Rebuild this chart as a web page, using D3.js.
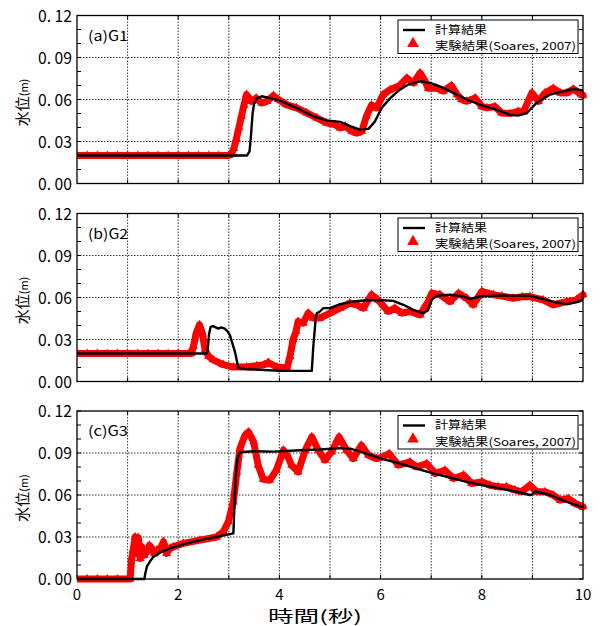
<!DOCTYPE html>
<html><head><meta charset="utf-8">
<script src="https://cdn.jsdelivr.net/npm/d3@7"></script>
<style>
html,body{margin:0;padding:0;background:#fff;}
svg{display:block;font-family:"Noto Sans CJK JP","Noto Sans",sans-serif;}
</style></head>
<body><svg id="chart" width="601" height="626"></svg>
<script>
// ---- data (time [s], water level [m]) ----
const panelLabels = ["(a)G1", "(b)G2", "(c)G3"];
const legendLabels = ["計算結果", "実験結果(Soares, 2007)"];
const yTickValues = [0, 0.03, 0.06, 0.09, 0.12];
const yTickLabels = ["0. 00", "0. 03", "0. 06", "0. 09", "0. 12"];
const xTickValues = [0, 2, 4, 6, 8, 10];
const xTickLabels = ["0", "2", "4", "6", "8", "10"];
const yTitle = ["水位", "(m)"];
const xTitle = "時間(秒)";

const g1Calc = [[0,0.02],[3.36,0.02],[3.41,0.023],[3.44,0.035],[3.47,0.05],[3.5,0.057],[3.56,0.061],[3.65,0.0623],[3.81,0.061],[4.0,0.0594],[4.34,0.054],[4.67,0.048],[4.93,0.0451],[5.2,0.044],[5.4,0.041],[5.59,0.0385],[5.76,0.039],[5.89,0.0444],[6.02,0.054],[6.19,0.061],[6.38,0.067],[6.54,0.0706],[6.78,0.073],[6.98,0.0718],[7.17,0.0694],[7.44,0.0647],[7.70,0.060],[8.0,0.0558],[8.29,0.0528],[8.56,0.049],[8.72,0.0485],[8.89,0.0504],[9.08,0.0575],[9.35,0.0635],[9.61,0.0658],[9.81,0.0675],[10,0.0665]];
const g1Exp = [[0,0.02],[0.2,0.02],[0.4,0.02],[0.6,0.02],[0.8,0.02],[1.0,0.02],[1.2,0.02],[1.4,0.02],[1.6,0.02],[1.8,0.02],[2.0,0.02],[2.2,0.02],[2.4,0.02],[2.6,0.02],[2.8,0.02],[3.0,0.02],[3.05,0.021],[3.1,0.025],[3.15,0.032],[3.2,0.040],[3.25,0.048],[3.3,0.056],[3.35,0.0635],[3.45,0.0587],[3.54,0.061],[3.65,0.0575],[3.75,0.0587],[3.88,0.0627],[3.98,0.060],[4.14,0.0563],[4.34,0.054],[4.54,0.0504],[4.74,0.0468],[4.93,0.0433],[5.10,0.042],[5.2,0.0397],[5.3,0.0409],[5.43,0.0373],[5.53,0.036],[5.63,0.0373],[5.72,0.048],[5.82,0.056],[5.92,0.054],[6.05,0.0635],[6.19,0.067],[6.38,0.070],[6.52,0.0753],[6.65,0.0718],[6.78,0.079],[6.88,0.073],[6.94,0.068],[7.11,0.068],[7.24,0.066],[7.40,0.070],[7.51,0.0635],[7.60,0.060],[7.70,0.0587],[7.87,0.061],[8.0,0.055],[8.1,0.054],[8.26,0.055],[8.39,0.0504],[8.56,0.050],[8.72,0.0516],[8.82,0.051],[8.99,0.0647],[9.12,0.0587],[9.25,0.0647],[9.41,0.068],[9.55,0.0647],[9.68,0.0647],[9.81,0.0675],[9.97,0.0635],[10,0.063]];

const g2Calc = [[0,0.02],[2.56,0.02],[2.58,0.022],[2.61,0.034],[2.64,0.039],[2.69,0.0395],[2.79,0.0378],[2.85,0.0386],[2.92,0.0378],[2.97,0.036],[3.02,0.0333],[3.12,0.0214],[3.19,0.0096],[3.35,0.0088],[4.02,0.0076],[4.64,0.0076],[4.67,0.025],[4.72,0.046],[4.74,0.0488],[4.8,0.050],[4.87,0.0524],[5.0,0.0524],[5.2,0.0553],[5.46,0.0571],[5.72,0.058],[6.05,0.058],[6.25,0.0576],[6.45,0.0548],[6.65,0.0512],[6.84,0.0488],[6.94,0.051],[7.01,0.0583],[7.11,0.0612],[7.37,0.062],[7.64,0.0607],[7.77,0.059],[7.96,0.0607],[8.36,0.0614],[8.95,0.0612],[9.15,0.0595],[9.48,0.0564],[9.68,0.0553],[9.87,0.0567],[10,0.0583]];
const g2Exp = [[0,0.02],[0.2,0.02],[0.4,0.02],[0.6,0.02],[0.8,0.02],[1.0,0.02],[1.2,0.02],[1.4,0.02],[1.6,0.02],[1.8,0.02],[2.0,0.02],[2.2,0.02],[2.26,0.02],[2.3,0.025],[2.36,0.035],[2.42,0.0405],[2.48,0.034],[2.53,0.0226],[2.6,0.018],[2.69,0.0155],[2.89,0.012],[3.09,0.0103],[3.35,0.0103],[3.55,0.0112],[3.7,0.012],[3.78,0.0136],[3.95,0.0103],[4.15,0.0096],[4.21,0.0179],[4.27,0.0298],[4.33,0.036],[4.37,0.0428],[4.47,0.0417],[4.57,0.0488],[4.67,0.0453],[4.80,0.0453],[5.0,0.0488],[5.2,0.0524],[5.39,0.056],[5.53,0.0548],[5.66,0.0524],[5.82,0.062],[5.95,0.0583],[6.15,0.050],[6.28,0.0524],[6.42,0.0488],[6.58,0.050],[6.78,0.0476],[6.94,0.057],[7.01,0.063],[7.17,0.062],[7.37,0.057],[7.54,0.063],[7.70,0.0595],[7.83,0.0548],[8.0,0.0643],[8.23,0.062],[8.4,0.061],[8.62,0.0595],[8.8,0.0605],[8.95,0.0607],[9.21,0.0583],[9.41,0.0548],[9.68,0.057],[9.87,0.0583],[10,0.062]];

const g3Calc = [[0,0],[1.33,0],[1.35,0.004],[1.38,0.0088],[1.45,0.013],[1.51,0.0159],[1.65,0.019],[1.84,0.0219],[2.17,0.0254],[2.5,0.0283],[2.83,0.0306],[3.09,0.0326],[3.12,0.06],[3.15,0.080],[3.18,0.087],[3.22,0.0905],[3.49,0.0913],[3.88,0.091],[4.41,0.092],[4.8,0.0925],[5.2,0.0935],[5.4,0.0931],[5.72,0.0896],[6.05,0.0856],[6.38,0.0825],[6.71,0.0789],[7.04,0.0754],[7.37,0.0725],[7.70,0.0694],[8.03,0.067],[8.36,0.0647],[8.69,0.0623],[8.95,0.060],[9.0,0.0605],[9.05,0.0627],[9.35,0.060],[9.68,0.0551],[10,0.0511]];
const g3Exp = [[0,0],[0.2,0],[0.4,0],[0.6,0],[0.8,0],[1.0,0],[1.05,0],[1.08,0.0147],[1.11,0.0207],[1.15,0.030],[1.18,0.018],[1.21,0.0295],[1.25,0.0147],[1.28,0.023],[1.33,0.017],[1.38,0.0195],[1.43,0.024],[1.48,0.0219],[1.53,0.018],[1.58,0.0207],[1.65,0.022],[1.71,0.0266],[1.77,0.0183],[1.84,0.022],[1.90,0.023],[2.1,0.0254],[2.43,0.0278],[2.76,0.030],[2.89,0.0337],[2.99,0.0409],[3.09,0.0551],[3.16,0.0765],[3.22,0.0932],[3.32,0.1027],[3.39,0.105],[3.49,0.098],[3.58,0.0813],[3.68,0.0712],[3.81,0.0706],[3.94,0.0777],[4.08,0.092],[4.16,0.088],[4.24,0.0813],[4.37,0.0765],[4.51,0.092],[4.64,0.1015],[4.77,0.092],[4.9,0.0849],[5.03,0.0908],[5.18,0.1015],[5.33,0.092],[5.46,0.086],[5.62,0.0955],[5.76,0.0884],[5.92,0.086],[6.05,0.0872],[6.17,0.0896],[6.35,0.0813],[6.58,0.0836],[6.71,0.080],[6.91,0.0825],[7.08,0.0754],[7.27,0.0777],[7.44,0.0718],[7.64,0.0742],[7.80,0.0682],[8.0,0.0694],[8.16,0.067],[8.33,0.0658],[8.49,0.0658],[8.66,0.0635],[8.79,0.0623],[8.95,0.067],[9.08,0.0623],[9.25,0.0623],[9.41,0.060],[9.55,0.0563],[9.71,0.0575],[9.84,0.054],[10,0.0516]];

const calcSeries = [g1Calc, g2Calc, g3Calc];
const expSeries = [g1Exp, g2Exp, g3Exp];

// ---- layout ----
const svg = d3.select("#chart");
const X0 = 77, X1 = 583, PH = 168;
const panelTops = [15.5, 213.5, 411];
const x = d3.scaleLinear().domain([0, 10]).range([X0, X1]);
const RED = "#ff0000";
const tri = d3.symbol().type(d3.symbolTriangle).size(34);

panelTops.forEach((top, i) => {
  const y = d3.scaleLinear().domain([0, 0.12]).range([top + PH, top]);
  const g = svg.append("g");
  const clipId = "clip" + i;
  svg.append("clipPath").attr("id", clipId).append("rect")
    .attr("x", X0).attr("y", top - 5).attr("width", X1 - X0 + 5).attr("height", PH + 10);

  // grid
  const grid = g.append("g").attr("stroke", "#333").attr("stroke-width", 1).attr("stroke-dasharray", "1.5,1.5");
  d3.range(1, 10).forEach(v => grid.append("line")
    .attr("x1", x(v)).attr("x2", x(v)).attr("y1", top).attr("y2", top + PH));
  [0.03, 0.06, 0.09].forEach(v => grid.append("line")
    .attr("x1", X0).attr("x2", X1).attr("y1", y(v)).attr("y2", y(v)));

  // minor ticks (inward)
  const ticks = g.append("g").attr("stroke", "#000").attr("stroke-width", 1);
  d3.range(0, 13).forEach(k => {
    const yy = y(k * 0.01);
    ticks.append("line").attr("x1", X0).attr("x2", X0 + 4).attr("y1", yy).attr("y2", yy);
    ticks.append("line").attr("x1", X1 - 4).attr("x2", X1).attr("y1", yy).attr("y2", yy);
  });
  d3.range(1, 10).forEach(v => {
    ticks.append("line").attr("x1", x(v)).attr("x2", x(v)).attr("y1", top + PH).attr("y2", top + PH - 4);
    ticks.append("line").attr("x1", x(v)).attr("x2", x(v)).attr("y1", top).attr("y2", top + 4);
  });

  // y tick labels
  g.append("g").selectAll("text").data(yTickValues).join("text")
    .attr("x", 72).attr("y", d => y(d) + 6)
    .attr("text-anchor", "end").attr("font-size", 16)
    .attr("textLength", 34).attr("lengthAdjust", "spacingAndGlyphs")
    .attr("fill", "#000")
    .text((d, j) => yTickLabels[j]);

  // y title
  const yt = g.append("text")
    .attr("transform", `translate(28,${top + PH / 2 + 3}) rotate(-90)`)
    .attr("text-anchor", "middle").attr("fill", "#000");
  yt.append("tspan").attr("font-size", 15).text(yTitle[0]);
  yt.append("tspan").attr("font-size", 11).text(yTitle[1]);

  // data
  const data = g.append("g").attr("clip-path", `url(#${clipId})`);
  const line = d3.line().x(d => x(d[0])).y(d => y(d[1]));
  data.append("path").datum(expSeries[i]).attr("d", line)
    .attr("fill", "none").attr("stroke", RED).attr("stroke-width", 7)
    .attr("stroke-linejoin", "round").attr("stroke-linecap", "round");
  data.append("g").selectAll("path").data(expSeries[i]).join("path")
    .attr("d", tri).attr("fill", RED)
    .attr("transform", d => `translate(${x(d[0])},${y(d[1])})`);
  data.append("path").datum(calcSeries[i]).attr("d", line)
    .attr("fill", "none").attr("stroke", "#000").attr("stroke-width", 2.4)
    .attr("stroke-linejoin", "round");

  // frame
  g.append("rect").attr("x", X0).attr("y", top).attr("width", X1 - X0).attr("height", PH)
    .attr("fill", "none").attr("stroke", "#000").attr("stroke-width", 1.3);

  // panel label
  g.append("text").attr("x", 88).attr("y", top + 25)
    .attr("font-size", 14).attr("textLength", 40).attr("lengthAdjust", "spacingAndGlyphs")
    .attr("fill", "#000").text(panelLabels[i]);

  // legend
  const lg = g.append("g");
  lg.append("rect").attr("x", 398).attr("y", top + 4.5).attr("width", 180).attr("height", 33.5)
    .attr("fill", "#fff").attr("stroke", "#000").attr("stroke-width", 1);
  lg.append("line").attr("x1", 403).attr("x2", 425).attr("y1", top + 14.5).attr("y2", top + 14.5)
    .attr("stroke", "#000").attr("stroke-width", 2.4);
  lg.append("path").attr("d", d3.symbol().type(d3.symbolTriangle).size(60))
    .attr("transform", `translate(413,${top + 28})`).attr("fill", RED);
  lg.append("text").attr("x", 435).attr("y", top + 18).attr("font-size", 11)
    .attr("textLength", 52).attr("lengthAdjust", "spacingAndGlyphs").attr("fill", "#000").text(legendLabels[0]);
  lg.append("text").attr("x", 435).attr("y", top + 34.5).attr("font-size", 11)
    .attr("textLength", 141).attr("lengthAdjust", "spacingAndGlyphs").attr("fill", "#000").text(legendLabels[1]);

  // x tick labels on bottom panel
  if (i === panelTops.length - 1) {
    g.append("g").selectAll("text").data(xTickValues).join("text")
      .attr("x", d => x(d)).attr("y", top + PH + 21)
      .attr("text-anchor", "middle").attr("font-size", 15).attr("fill", "#000")
      .text((d, j) => xTickLabels[j]);
    g.append("text").attr("x", 315).attr("y", top + PH + 43)
      .attr("text-anchor", "middle").attr("font-size", 16)
      .attr("textLength", 94).attr("lengthAdjust", "spacingAndGlyphs")
      .attr("fill", "#000").text(xTitle);
  }
});
</script></body></html>
